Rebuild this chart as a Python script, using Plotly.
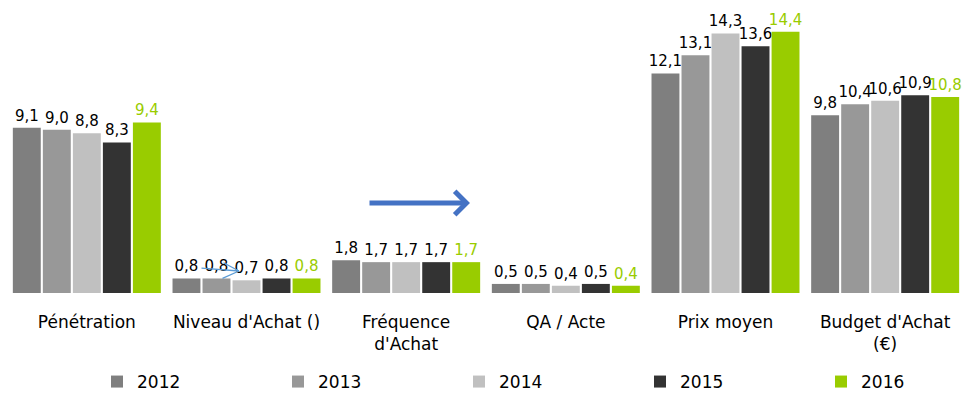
import plotly.graph_objects as go

categories = ["Pénétration", "Niveau d'Achat ()", "Fréquence<br>d'Achat",
              "QA / Acte", "Prix moyen", "Budget d'Achat<br>(€)"]
years = ["2012", "2013", "2014", "2015", "2016"]
values_2012 = [9.1, 0.8, 1.8, 0.5, 12.1, 9.8]
values_2013 = [9.0, 0.8, 1.7, 0.5, 13.1, 10.4]
values_2014 = [8.8, 0.7, 1.7, 0.4, 14.3, 10.6]
values_2015 = [8.3, 0.8, 1.7, 0.5, 13.6, 10.9]
values_2016 = [9.4, 0.8, 1.7, 0.4, 14.4, 10.8]

series = [values_2012, values_2013, values_2014, values_2015, values_2016]
colors = ["#7F7F7F", "#989898", "#C0C0C0", "#333333", "#99CC00"]
label_colors = ["#000000", "#000000", "#000000", "#000000", "#99CC00"]

FONT = "DejaVu Sans"

fig = go.Figure()
for year, vals, col, lcol in zip(years, series, colors, label_colors):
    fig.add_trace(go.Bar(
        x=categories, y=vals, name=year,
        marker=dict(color=col, line=dict(width=0)),
        texttemplate="%{y:.1f}", textposition="outside",
        constraintext="none",
        textfont=dict(family=FONT, size=15, color=lcol),
        cliponaxis=False,
    ))

W, H = 965, 393
ml, mr, mt, mb = 7, 0, 5, 100
pw, ph = W - ml - mr, H - mt - mb


def px(x):
    return (x - ml) / pw


def py(y):
    return (H - mb - y) / ph


def arrow_line(x0, y0, x1, y1, color, width, head=0, size=1.0):
    # line drawn from (x0, y0) to (x1, y1), page pixels; head sits at (x1, y1)
    return dict(x=px(x1), y=py(y1), xref="paper", yref="paper",
                ax=x0 - x1, ay=y0 - y1, axref="pixel", ayref="pixel",
                showarrow=True, arrowhead=head, arrowsize=size,
                arrowwidth=width, arrowcolor=color, text="",
                standoff=0, startstandoff=0)


small_col = "#5B9BD5"
annotations = [
    arrow_line(368, 203, 470, 203, "#4472C4", 5, head=4, size=0.9),
    arrow_line(200, 268, 239, 271, small_col, 1.3),
    arrow_line(222, 262, 239, 271, small_col, 1.3),
    arrow_line(221, 279, 239, 271, small_col, 1.3),
]

fig.update_layout(
    width=W, height=H,
    margin=dict(l=ml, r=mr, t=mt, b=mb, autoexpand=False),
    paper_bgcolor="white", plot_bgcolor="white",
    separators=", ",
    barmode="group", bargap=0.06, bargroupgap=0.07,
    font=dict(family=FONT, size=16, color="#000000"),
    showlegend=True,
    legend=dict(
        orientation="h", x=px(97), y=py(382), xanchor="left", yanchor="middle",
        entrywidth=136, entrywidthmode="pixels",
        font=dict(family=FONT, size=17, color="#000000"),
        itemsizing="constant", traceorder="normal",
    ),
    xaxis=dict(showline=False, ticks="", showgrid=False, automargin=False,
               ticklabelstandoff=17,
               tickfont=dict(family=FONT, size=17, color="#000000")),
    yaxis=dict(visible=False, range=[0, 15.87], showgrid=False, zeroline=False),
    annotations=annotations,
)

fig.write_html("out.html")
